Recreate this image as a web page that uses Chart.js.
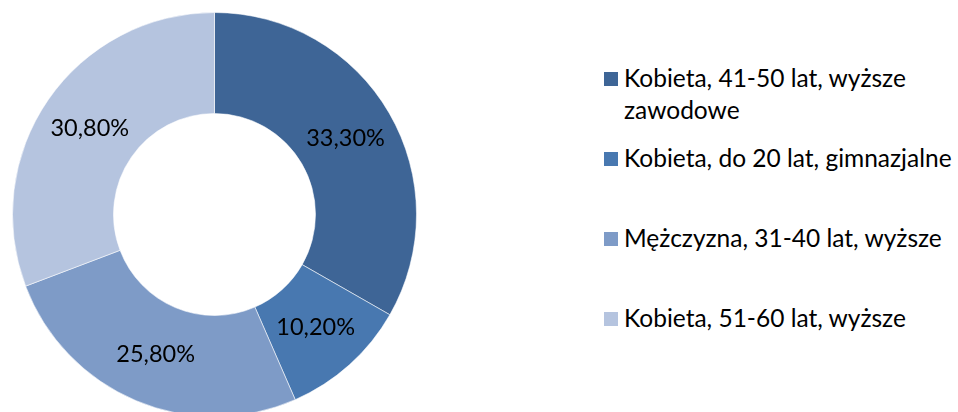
<!DOCTYPE html>
<html>
<head>
<meta charset="utf-8">
<script src="https://cdn.jsdelivr.net/npm/chart.js@4"></script>
<style>
    html, body { margin: 0; padding: 0; background: #fff; overflow: hidden; }
    body { width: 958px; height: 412px; position: relative; font-family: Lato, 'Open Sans', sans-serif; }
    #chart-box { position: absolute; left: 12px; top: 12px; width: 405px; height: 405px; }
    #legend { position: absolute; left: 604px; top: 62px; width: 360px; }
    .item { position: relative; padding-left: 20px; font-size: 24.5px; line-height: 32px; color: #000; height: 80px; white-space: nowrap; }
    .item .box { position: absolute; left: 0; top: 10px; width: 14px; height: 14px; }
</style>
</head>
<body>
<div id="chart-box"><canvas id="chart"></canvas></div>
<div id="legend"></div>
<script>
// --- Data -------------------------------------------------------------------
const labels = [
    'Kobieta, 41-50 lat, wyższe zawodowe',
    'Kobieta, do 20 lat, gimnazjalne',
    'Mężczyzna, 31-40 lat, wyższe',
    'Kobieta, 51-60 lat, wyższe'
]
// the long label wraps after "wyższe" in the legend
const legendLines = [
    ['Kobieta, 41-50 lat, wyższe', 'zawodowe'],
    ['Kobieta, do 20 lat, gimnazjalne'],
    ['Mężczyzna, 31-40 lat, wyższe'],
    ['Kobieta, 51-60 lat, wyższe']
]
const values = [33.3, 10.2, 25.8, 30.8]
const valueLabels = ['33,30%', '10,20%', '25,80%', '30,80%']
const colors = ['#3E6596', '#4878B0', '#7E9BC7', '#B5C4DF']

// --- Legend (html, so the long label can wrap) ------------------------------
const legend = document.getElementById('legend')
legendLines.forEach((lines, i) => {
    const item = document.createElement('div')
    item.className = 'item'
    item.title = labels[i]
    item.innerHTML = `<span class="box" style="background:${colors[i]}"></span>${lines.join('<br>')}`
    legend.appendChild(item)
})

// --- Value labels in the middle of each ring slice --------------------------
const sliceLabels = {
    id: 'sliceLabels',
    afterDatasetsDraw(chart) {
        const ctx = chart.ctx
        ctx.save()
        ctx.font = '23.5px Lato, sans-serif'
        ctx.fillStyle = '#000'
        ctx.textAlign = 'center'
        ctx.textBaseline = 'middle'
        chart.getDatasetMeta(0).data.forEach((arc, i) => {
            const pos = arc.tooltipPosition()
            ctx.fillText(valueLabels[i], pos.x, pos.y)
        })
        ctx.restore()
    }
}

new Chart(document.getElementById('chart'), {
    type: 'doughnut',
    data: {
        labels: labels,
        datasets: [{
            data: values,
            backgroundColor: colors,
            borderColor: 'rgba(255,255,255,0.55)',
            borderWidth: 1
        }]
    },
    options: {
        responsive: true,
        maintainAspectRatio: false,
        animation: false,
        cutout: '50%',
        layout: { padding: 0 },
        plugins: {
            legend: { display: false },
            tooltip: { enabled: false }
        }
    },
    plugins: [sliceLabels]
})
</script>
</body>
</html>
